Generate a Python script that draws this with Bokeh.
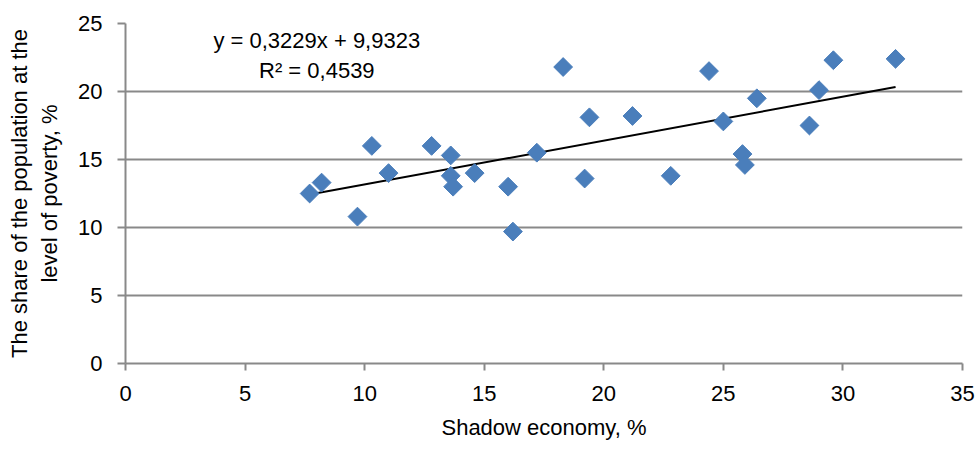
import numpy as np
from bokeh.plotting import figure
from bokeh.models import Range1d, Label, FixedTicker
from bokeh.embed import file_html
from bokeh.resources import INLINE

# Data
shadow_economy = [7.7, 8.2, 9.7, 10.3, 11.0, 12.8, 13.6, 13.6, 13.7, 14.6, 16.0, 16.2, 17.2,
                  18.3, 19.2, 19.4, 21.2, 22.8, 24.4, 25.0, 25.8, 25.9, 26.4, 28.6, 29.0, 29.6, 32.2]
poverty_share = [12.5, 13.3, 10.8, 16.0, 14.0, 16.0, 15.3, 13.8, 13.0, 14.0, 13.0, 9.7, 15.5,
                 21.8, 13.6, 18.1, 18.2, 13.8, 21.5, 17.8, 15.4, 14.6, 19.5, 17.5, 20.1, 22.3, 22.4]
slope = 0.3229
intercept = 9.9323
r_squared = 0.4539
x_ticks = [0, 5, 10, 15, 20, 25, 30, 35]
y_ticks = [0, 5, 10, 15, 20, 25]

FONT = "Liberation Sans"
GRID = "#898989"

p = figure(width=976, height=448, output_backend="svg", toolbar_location=None,
           x_range=Range1d(0, 35), y_range=Range1d(0, 25),
           min_border_left=125, min_border_right=14, min_border_top=23, min_border_bottom=85)
p.outline_line_color = None
p.background_fill_color = "white"
p.border_fill_color = "white"

# grid
p.xgrid.grid_line_color = None
p.ygrid.grid_line_color = GRID
p.ygrid.grid_line_width = 2
p.ygrid.ticker = FixedTicker(ticks=y_ticks)

# axes
p.xaxis.ticker = FixedTicker(ticks=x_ticks)
p.yaxis.ticker = FixedTicker(ticks=y_ticks)
for ax in (p.xaxis[0], p.yaxis[0]):
    ax.axis_line_color = GRID
    ax.axis_line_width = 2
    ax.major_tick_line_color = GRID
    ax.major_tick_line_width = 2
    ax.major_tick_in = 0
    ax.minor_tick_line_color = None
    ax.major_label_text_font = FONT
    ax.major_label_text_font_size = "22px"
    ax.major_label_text_color = "black"
    ax.axis_label_text_font = FONT
    ax.axis_label_text_font_size = "22px"
    ax.axis_label_text_font_style = "normal"
    ax.axis_label_text_color = "black"

p.xaxis.major_tick_out = 7
p.xaxis.major_label_standoff = 15
p.xaxis.axis_label = "Shadow economy, %"
p.xaxis.axis_label_standoff = 11

p.yaxis.major_tick_out = 8
p.yaxis.major_label_standoff = 15
p.yaxis.axis_label = "The share of the population at the\nlevel of poverty, %"
p.yaxis.axis_label_standoff = 13

# trend line over the data extent
tx = np.array([min(shadow_economy), max(shadow_economy)])
ty = slope * tx + intercept
p.line(tx, ty, line_color="black", line_width=2)

# points (diamonds)
p.scatter(shadow_economy, poverty_share, marker="square", angle=np.pi / 4, size=13.3,
          fill_color="#4a7ebb", line_color="#4a7ebb")

eq_text = "y = " + f"{slope:.4f}".replace(".", ",") + "x + " + f"{intercept:.4f}".replace(".", ",")
r_text = "R² = " + f"{r_squared:.4f}".replace(".", ",")
p.add_layout(Label(x=8.0, y=23.78, text=eq_text, text_align="center", text_baseline="middle",
                   text_font=FONT, text_font_size="22px", text_color="black"))
p.add_layout(Label(x=8.0, y=21.54, text=r_text, text_align="center", text_baseline="middle",
                   text_font=FONT, text_font_size="22px", text_color="black"))

open("out.html", "w").write(file_html(p, INLINE))
